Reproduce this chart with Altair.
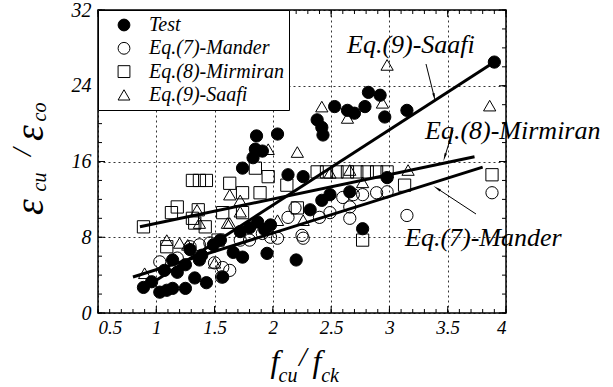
import altair as alt
import pandas as pd

# ---------------- data ----------------
test_x = [0.89, 0.96, 1.03, 1.09, 1.14, 1.25, 1.33, 1.43, 1.14, 1.18, 1.07, 1.37, 1.39, 1.49, 1.55,
          1.25, 1.29, 1.57, 1.66, 1.74, 1.95, 1.80, 1.87, 1.93, 1.98, 1.72, 2.20, 2.42, 2.49, 2.32,
          2.66, 2.77, 2.98, 2.13, 2.26, 1.74, 1.83, 1.85, 1.91, 1.86, 2.04, 2.38, 2.42, 2.43, 2.53,
          2.64, 2.70, 2.79, 2.82, 2.92, 2.96, 3.15, 3.90]
test_y = [2.7, 3.3, 2.2, 2.4, 2.6, 2.6, 3.7, 3.2, 5.6, 4.3, 4.5, 5.6, 6.1, 7.2, 7.7,
          5.1, 6.7, 3.8, 6.4, 5.9, 6.3, 9.0, 9.6, 8.8, 9.3, 8.6, 5.6, 11.9, 12.5, 10.9,
          12.8, 8.9, 14.3, 14.6, 14.4, 15.3, 16.4, 17.3, 17.1, 18.7, 18.9, 20.4, 19.6, 18.8, 21.8,
          21.4, 21.1, 21.8, 23.3, 23.0, 20.7, 21.4, 26.5]

mander_x = [1.03, 1.18, 1.29, 1.37, 1.46, 1.50, 1.56, 1.63, 1.57, 1.72, 1.80, 1.91, 1.98, 2.04,
            2.26, 2.13, 2.19, 2.25, 2.40, 2.49, 2.60, 2.66, 2.69, 2.77, 2.89, 2.98, 2.66, 3.15, 3.88]
mander_y = [5.4, 5.8, 7.0, 7.2, 7.4, 5.3, 3.8, 4.5, 4.8, 7.7, 7.7, 8.4, 8.0, 7.9,
            7.9, 10.1, 11.1, 8.2, 10.1, 10.6, 12.2, 11.2, 12.5, 12.5, 12.7, 12.8, 10.0, 10.3, 12.7]

mirmiran_x = [0.89, 1.09, 1.13, 1.18, 1.33, 1.36, 1.42, 1.31, 1.31, 1.37, 1.43, 1.53, 1.57, 1.63,
              1.74, 1.74, 1.85, 1.89, 1.96, 2.12, 2.21, 2.38, 2.46, 2.55, 2.64, 2.72, 2.81, 2.89,
              2.98, 3.13, 2.77, 3.88]
mirmiran_y = [9.1, 7.0, 10.6, 11.2, 9.5, 10.9, 9.1, 10.0, 14.0, 14.0, 14.0, 7.7, 10.6, 13.7,
              12.7, 10.6, 15.3, 12.7, 14.4, 13.5, 11.1, 14.9, 14.9, 14.9, 14.9, 14.9, 14.9, 14.9,
              14.9, 13.5, 7.7, 14.6]

saafi_x = [0.90, 1.09, 1.20, 1.27, 1.35, 1.37, 1.50, 1.63, 1.72, 1.96, 2.21, 2.26, 2.42, 2.64,
           2.94, 2.98, 3.16, 3.86, 2.49, 2.66, 2.77, 1.61, 1.63, 2.04, 1.72]
saafi_y = [4.2, 7.7, 7.4, 7.2, 10.9, 9.5, 5.3, 12.5, 11.9, 17.3, 17.0, 9.8, 21.8, 20.6,
           22.2, 26.2, 15.1, 21.9, 14.8, 15.1, 13.8, 9.5, 9.5, 9.8, 10.7]

fit_mander_x = [0.80, 3.80]
fit_mander_y = [3.8, 15.4]
fit_mirmiran_x = [0.86, 3.73]
fit_mirmiran_y = [9.1, 16.5]
fit_saafi_x = [0.88, 3.90]
fit_saafi_y = [2.5, 26.5]

series_order = ["Test", "Eq.(7)-Mander", "Eq.(8)-Mirmiran", "Eq.(9)-Saafi"]
x_ticks_major = [0.5, 1, 1.5, 2, 2.5, 3, 3.5, 4]
x_ticks_minor = [round(0.5 + 0.1 * i, 1) for i in range(36)]
y_ticks_major = [0, 8, 16, 24, 32]
y_ticks_minor = list(range(0, 33, 2))

# ---------------- frames ----------------
pts = pd.concat([
    pd.DataFrame({"x": test_x, "y": test_y, "series": "Test"}),
    pd.DataFrame({"x": mander_x, "y": mander_y, "series": "Eq.(7)-Mander"}),
    pd.DataFrame({"x": mirmiran_x, "y": mirmiran_y, "series": "Eq.(8)-Mirmiran"}),
    pd.DataFrame({"x": saafi_x, "y": saafi_y, "series": "Eq.(9)-Saafi"}),
], ignore_index=True)

fits = pd.concat([
    pd.DataFrame({"x": fit_mander_x, "y": fit_mander_y, "fit": "mander"}),
    pd.DataFrame({"x": fit_mirmiran_x, "y": fit_mirmiran_y, "fit": "mirmiran"}),
    pd.DataFrame({"x": fit_saafi_x, "y": fit_saafi_y, "fit": "saafi"}),
], ignore_index=True)

W, H = 408, 303
SERIF = "Liberation Serif"

xscale = alt.Scale(domain=[0.5, 4], nice=False, zero=False)
yscale = alt.Scale(domain=[0, 32], nice=False, zero=False)

x_axis = alt.Axis(values=x_ticks_major, format="~g", title=None, ticks=False, domain=False,
                  grid=True, gridDash=[2, 3], gridColor="black", gridWidth=0.8,
                  labelFont=SERIF, labelFontStyle="italic", labelFontSize=19,
                  labelColor="black", labelPadding=5)
y_axis = alt.Axis(values=y_ticks_major, title=None, ticks=False, domain=False,
                  grid=True, gridDash=[2, 3], gridColor="black", gridWidth=0.8,
                  labelFont=SERIF, labelFontStyle="italic", labelFontSize=20,
                  labelColor="black", labelPadding=7)

legend = alt.Legend(title=None, orient="top-left", offset=0, padding=5, rowPadding=3.3,
                    symbolOffset=11, labelOffset=15, symbolSize=140,
                    symbolStrokeWidth=1,
                    labelFont=SERIF, labelFontStyle="italic", labelFontSize=20,
                    labelColor="black", strokeColor="black", fillColor="white")

points = alt.Chart(pts).mark_point(filled=True, strokeWidth=1,
                                   size=150, opacity=1).encode(
    x=alt.X("x:Q", scale=xscale, axis=x_axis),
    y=alt.Y("y:Q", scale=yscale, axis=y_axis),
    shape=alt.Shape("series:N", scale=alt.Scale(domain=series_order,
                    range=["circle", "circle", "square", "triangle-up"]), legend=legend),
    fill=alt.Fill("series:N", scale=alt.Scale(domain=series_order,
                  range=["black", "transparent", "transparent", "transparent"]), legend=legend),
    stroke=alt.Stroke("series:N", scale=alt.Scale(domain=series_order,
                      range=["black", "black", "black", "black"]), legend=legend),
)

lines = alt.Chart(fits).mark_line(color="black", strokeWidth=3).encode(
    x=alt.X("x:Q", scale=xscale, axis=x_axis),
    y=alt.Y("y:Q", scale=yscale, axis=y_axis),
    detail="fit:N",
)

# inward ticks on all four sides
def xticks(vals, length):
    df = pd.DataFrame({"v": vals})
    b = alt.Chart(df).mark_rule(color="black", strokeWidth=1).encode(
        x=alt.X("v:Q", scale=xscale, axis=x_axis), y=alt.value(H), y2=alt.value(H - length))
    t = alt.Chart(df).mark_rule(color="black", strokeWidth=1).encode(
        x=alt.X("v:Q", scale=xscale, axis=x_axis), y=alt.value(0), y2=alt.value(length))
    return [b, t]

def yticks(vals, length):
    df = pd.DataFrame({"v": vals})
    l = alt.Chart(df).mark_rule(color="black", strokeWidth=1).encode(
        y=alt.Y("v:Q", scale=yscale, axis=y_axis), x=alt.value(0), x2=alt.value(length))
    r = alt.Chart(df).mark_rule(color="black", strokeWidth=1).encode(
        y=alt.Y("v:Q", scale=yscale, axis=y_axis), x=alt.value(W), x2=alt.value(W - length))
    return [l, r]

def label(text, px, py, size, angle=0, align="center", baseline="middle", style="italic"):
    return alt.Chart(alt.Data(values=[{"a": 1}])).mark_text(
        text=text, font=SERIF, fontSize=size, fontStyle=style, angle=angle,
        align=align, baseline=baseline, color="black").encode(
        x=alt.value(px), y=alt.value(py))

def arrow(x1, y1, x2, y2, ang):
    r = alt.Chart(alt.Data(values=[{"a": 1}])).mark_rule(color="black", strokeWidth=1).encode(
        x=alt.value(x1), y=alt.value(y1), x2=alt.value(x2), y2=alt.value(y2))
    h = alt.Chart(alt.Data(values=[{"a": 1}])).mark_point(
        shape="wedge", filled=True, color="black", size=90, angle=ang, opacity=1).encode(
        x=alt.value(x2), y=alt.value(y2))
    return [r, h]

layers = [points, lines]
layers += xticks(x_ticks_minor, 4) + xticks(x_ticks_major, 7)
layers += yticks(y_ticks_minor, 4) + yticks(y_ticks_major, 7)

# annotations
layers += [
    label("Eq.(9)-Saafi", 249, 35, 26, align="left"),
    label("Eq.(8)-Mirmiran", 327, 121, 26, align="left"),
    label("Eq.(7)-Mander", 307, 228, 26, align="left"),
]
layers += arrow(328, 54, 336, 86, 168)
layers += arrow(355, 120, 347, 146, 197)
layers += arrow(378, 204, 340, 179, 303)

# axis titles with subscripts
layers += [
    label("ε", -67, 197, 40, angle=270),
    label("cu", -58, 172, 20, angle=270),
    label("/", -75, 142, 28, angle=270),
    label("ε", -67, 123, 40, angle=270),
    label("co", -58, 102, 20, angle=270),
    label("f", 177, 352, 32),
    label("cu", 190, 366, 20),
    label("/", 205, 348, 28),
    label("f", 219, 352, 32),
    label("ck", 232, 366, 20),
]

chart = alt.layer(*layers).properties(
    width=W, height=H,
    autosize=alt.AutoSizeParams(type="none"),
    padding={"left": 98, "top": 10, "right": 107, "bottom": 74},
    background="white",
).configure_view(stroke="black", strokeWidth=1.5
).configure_legend(strokeColor="black", fillColor="white")

chart.save("out.html", embed_options={"renderer": "svg", "actions": False})
